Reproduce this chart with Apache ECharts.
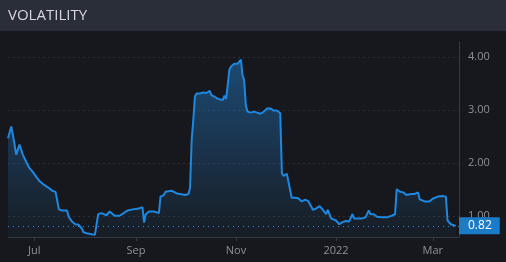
<!DOCTYPE html>
<html>
<head>
<meta charset="utf-8">
<script src="https://cdn.jsdelivr.net/npm/echarts@6/dist/echarts.min.js"></script>
<style>
  html, body { margin: 0; padding: 0; background: #17181d; }
  #main { width: 506px; height: 262px; }
</style>
</head>
<body>
<div id="main"></div>
<script>
// volatility readings
const dates = [
  '2021-06-15', '2021-06-17', '2021-06-18', '2021-06-20', '2021-06-22', '2021-06-24', '2021-06-26', '2021-06-28', '2021-06-29', '2021-06-30',
  '2021-07-02', '2021-07-04', '2021-07-07', '2021-07-10', '2021-07-12', '2021-07-14', '2021-07-16', '2021-07-18', '2021-07-19', '2021-07-21',
  '2021-07-22', '2021-07-24', '2021-07-26', '2021-07-28', '2021-07-30', '2021-07-31',
  '2021-08-02', '2021-08-05', '2021-08-07', '2021-08-08', '2021-08-09', '2021-08-11', '2021-08-12', '2021-08-14', '2021-08-16', '2021-08-19',
  '2021-08-22', '2021-08-25', '2021-08-27', '2021-08-30',
  '2021-09-02', '2021-09-05', '2021-09-06', '2021-09-07', '2021-09-09', '2021-09-12', '2021-09-15', '2021-09-16', '2021-09-18', '2021-09-19',
  '2021-09-23', '2021-09-26', '2021-09-28',
  '2021-10-01', '2021-10-03', '2021-10-04', '2021-10-05', '2021-10-06', '2021-10-07', '2021-10-08', '2021-10-10', '2021-10-12', '2021-10-14',
  '2021-10-16', '2021-10-17', '2021-10-19', '2021-10-21', '2021-10-22', '2021-10-24', '2021-10-25', '2021-10-26', '2021-10-27', '2021-10-28',
  '2021-10-29', '2021-10-31',
  '2021-11-01', '2021-11-02', '2021-11-04', '2021-11-05', '2021-11-06', '2021-11-07', '2021-11-08', '2021-11-10', '2021-11-12', '2021-11-14',
  '2021-11-16', '2021-11-18', '2021-11-20', '2021-11-22', '2021-11-24', '2021-11-26', '2021-11-28', '2021-11-29', '2021-11-30',
  '2021-12-02', '2021-12-03', '2021-12-05', '2021-12-07', '2021-12-09', '2021-12-11', '2021-12-13', '2021-12-15', '2021-12-16', '2021-12-18',
  '2021-12-20', '2021-12-22', '2021-12-24', '2021-12-26', '2021-12-27', '2021-12-29', '2021-12-30',
  '2022-01-01', '2022-01-03', '2022-01-05', '2022-01-07', '2022-01-09', '2022-01-11', '2022-01-12', '2022-01-14', '2022-01-17', '2022-01-19',
  '2022-01-21', '2022-01-22', '2022-01-24', '2022-01-26', '2022-01-29',
  '2022-02-01', '2022-02-04', '2022-02-06', '2022-02-07', '2022-02-09', '2022-02-11', '2022-02-13', '2022-02-16', '2022-02-18', '2022-02-20',
  '2022-02-21', '2022-02-24', '2022-02-27',
  '2022-03-01', '2022-03-04', '2022-03-07', '2022-03-09', '2022-03-10', '2022-03-12', '2022-03-15'
]
const vols = [
  2.47, 2.69, 2.53, 2.16, 2.35, 2.16, 2.03, 1.91, 1.92, 1.84,
  1.75, 1.67, 1.59, 1.53, 1.48, 1.46, 1.13, 1.11, 1.09, 1.11,
  0.99, 0.90, 0.85, 0.84, 0.77, 0.70,
  0.68, 0.66, 0.65, 0.68, 1.04, 1.06, 1.07, 1.02, 1.09, 1.01,
  1.01, 1.07, 1.11, 1.13,
  1.14, 1.17, 0.88, 1.04, 1.09, 1.09, 1.06, 1.37, 1.40, 1.46,
  1.48, 1.43, 1.42,
  1.40, 1.42, 1.53, 2.44, 2.82, 3.26, 3.31, 3.31, 3.33, 3.32,
  3.36, 3.28, 3.25, 3.21, 3.18, 3.19, 3.27, 3.21, 3.23, 3.76,
  3.82, 3.87,
  3.90, 3.87, 3.95, 3.66, 3.56, 3.09, 2.97, 2.95, 2.97, 2.95,
  2.93, 2.97, 3.03, 3.03, 2.99, 2.99, 2.94, 1.81, 1.76,
  1.80, 1.78, 1.35, 1.35, 1.34, 1.28, 1.31, 1.29, 1.28, 1.12,
  1.15, 1.19, 1.12, 1.04, 1.12, 0.96, 0.93,
  0.92, 0.85, 0.89, 0.91, 0.90, 1.04, 0.96, 0.96, 0.96, 0.98,
  1.11, 1.04, 1.04, 0.99, 0.98,
  0.98, 1.01, 1.04, 1.51, 1.46, 1.45, 1.40, 1.42, 1.42, 1.45,
  1.32, 1.28, 1.28,
  1.33, 1.37, 1.38, 1.37, 0.92, 0.85, 0.82
]
const tickDates = ['2021-07-01', '2021-09-01', '2021-11-01', '2022-01-01', '2022-03-01']
const tickLabels = ['Jul', 'Sep', 'Nov', '2022', 'Mar']
const yTicks = [1, 2, 3, 4]

// 'YYYY-MM-DD' -> timestamp (local time)
const toTime = (s) => {
    const p = s.split('-').map(Number)
    return new Date(p[0], p[1] - 1, p[2]).getTime()
}
const tickTimes = tickDates.map(toTime)
const lastValue = vols[vols.length - 1]

let chartDom = document.getElementById('main')
let myChart = echarts.init(chartDom)
let option = {
    backgroundColor: '#17181d',
    animation: false,
    graphic: [
        {
            type: 'rect',
            shape: { x: 0, y: 0, width: 506, height: 31 },
            style: { fill: '#2a2e38' },
            z: -1
        }
    ],
    title: {
        text: 'VOLATILITY',
        left: 3,
        top: 3,
        textStyle: {
            color: '#d6d8de',
            fontSize: 15,
            fontWeight: 'normal',
            fontFamily: 'Open Sans'
        }
    },
    grid: { left: 8, right: 47, top: 42, bottom: 25 },
    xAxis: {
        type: 'value',
        min: toTime('2021-06-15'),
        max: toTime('2022-03-17'),
        axisLine: { lineStyle: { color: '#363a44' } },
        axisTick: {
            customValues: tickTimes,
            length: 4,
            lineStyle: { color: '#363a44' }
        },
        splitLine: { show: false },
        axisLabel: {
            customValues: tickTimes,
            color: '#8d9099',
            fontSize: 11,
            fontFamily: 'Open Sans',
            margin: 8,
            formatter: (val) => {
                const i = tickTimes.indexOf(val)
                return i >= 0 ? tickLabels[i] : ''
            }
        }
    },
    yAxis: {
        type: 'value',
        position: 'right',
        min: 0.61,
        max: 4.28,
        axisLine: { show: true, lineStyle: { color: '#363a44' } },
        axisTick: { show: false, customValues: yTicks },
        splitLine: {
            show: true,
            lineStyle: { color: '#2c2f37', type: [2, 3] }
        },
        axisLabel: {
            customValues: yTicks,
            color: '#8d9099',
            fontSize: 11,
            fontFamily: 'Open Sans',
            margin: 9,
            formatter: (v) => v.toFixed(2)
        }
    },
    series: [
        {
            type: 'line',
            data: dates.map((d, i) => [toTime(d), vols[i]]),
            showSymbol: false,
            lineStyle: { color: '#1e88e0', width: 2 },
            itemStyle: { color: '#1e88e0' },
            areaStyle: {
                color: new echarts.graphic.LinearGradient(0, 0, 0, 1, [
                    { offset: 0, color: 'rgba(33, 130, 210, 0.68)' },
                    { offset: 1, color: 'rgba(33, 130, 210, 0.06)' }
                ])
            },
            markLine: {
                silent: true,
                symbol: 'none',
                lineStyle: { color: '#2a8be0', type: [1, 4], width: 1 },
                label: {
                    position: 'end',
                    distance: 0,
                    formatter: (p) => p.value.toFixed(2),
                    color: '#ffffff',
                    backgroundColor: '#1a7cc9',
                    fontSize: 12,
                    fontFamily: 'Open Sans',
                    padding: [3, 8, 2, 9]
                },
                data: [{ yAxis: lastValue }]
            }
        }
    ]
}

option && myChart.setOption(option)
</script>
</body>
</html>
